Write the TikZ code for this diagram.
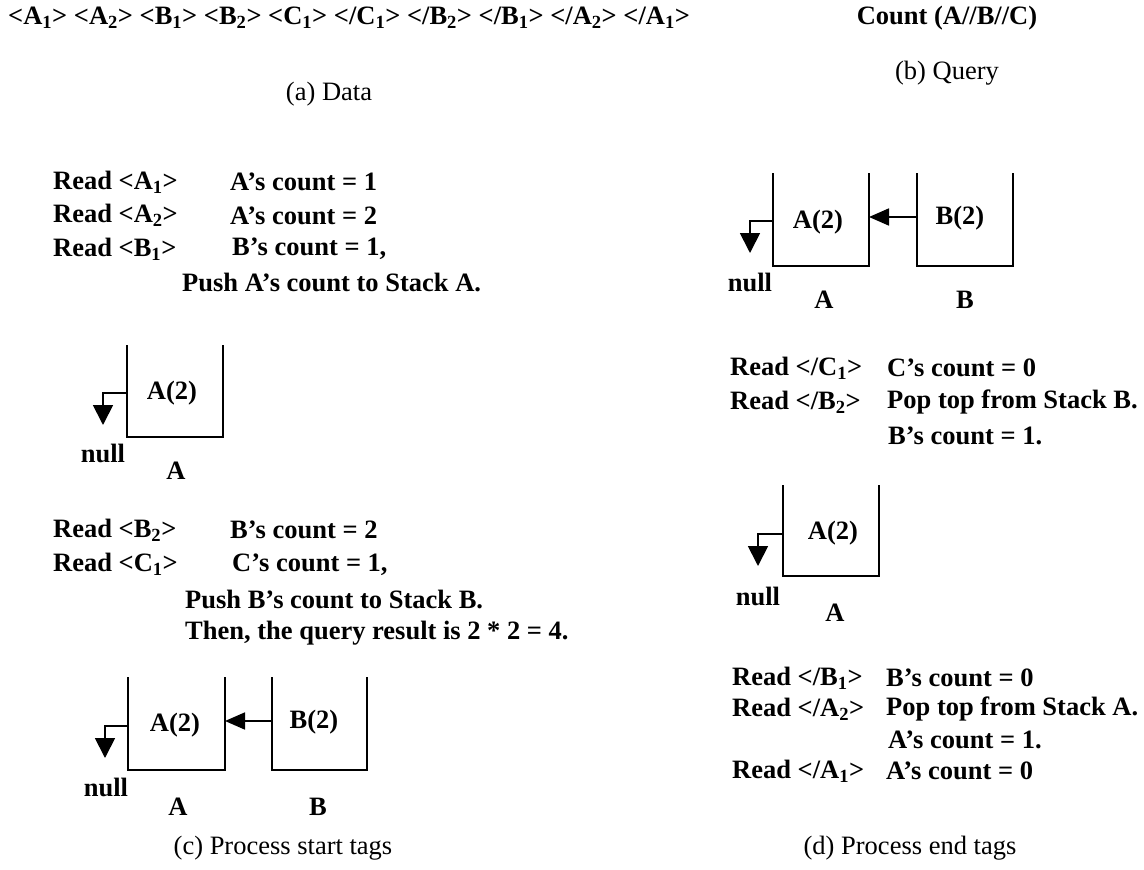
\documentclass[tikz,border=0pt]{standalone}
\usepackage{fontspec}
\setmainfont{Liberation Serif}
\usetikzlibrary{arrows.meta}
% start and end tags with a subscript index
\newcommand{\stag}[2]{<#1\textsubscript{#2}>}
\newcommand{\etag}[2]{</#1\textsubscript{#2}>}
\begin{document}
\begin{tikzpicture}[x=1pt,y=-1pt,
  txt/.style={inner sep=0pt,anchor=west,font=\fontsize{26.5}{30}\selectfont\bfseries},
  ctxt/.style={inner sep=0pt,font=\fontsize{26.5}{30}\selectfont\bfseries},
  captext/.style={inner sep=0pt,font=\fontsize{26.5}{30}\selectfont},
  wall/.style={line width=1.8pt},
  ptr/.style={line width=1.8pt,-{Triangle[length=20pt,width=20pt]}},
  link/.style={line width=1.8pt,-{Triangle[length=20pt,width=17pt]}}]
\fill[white] (0,0) rectangle (1144,870);
\path[use as bounding box] (0,0) rectangle (1144,870);

% (a) data and (b) query
\node[txt] (data) at (8,18) {\stag{A}{1} \stag{A}{2} \stag{B}{1} \stag{B}{2} \stag{C}{1} \etag{C}{1} \etag{B}{2} \etag{B}{1} \etag{A}{2} \etag{A}{1}};
\node[ctxt] (query) at (947,18) {Count (A//B//C)};
\node[captext] (capa) at (329,94) {(a) Data};
\node[captext] (capb) at (947,73) {(b) Query};

% (c) process start tags
\node[txt] (r1) at (53,182) {Read \stag{A}{1}};
\node[txt] (s1) at (230,182) {A’s count = 1};
\node[txt] (r2) at (53,215.5) {Read \stag{A}{2}};
\node[txt] (s2) at (230,215.5) {A’s count = 2};
\node[txt] (r3) at (53,249) {Read \stag{B}{1}};
\node[txt] (s3) at (232,249) {B’s count = 1,};
\node[txt] (s3b) at (182,282.5) {Push A’s count to Stack A.};

\draw[wall] (127,345) -- (127,437) -- (223,437) -- (223,345);
\coordinate (c1w) at (127,393);
\coordinate (c1n) at (103,425);
\draw[ptr] (c1w) -| (c1n);
\node[ctxt] (c1a) at (172,393) {A(2)};
\node[ctxt] (c1null) at (103,453) {null};
\node[ctxt] (c1la) at (176,471) {A};

\node[txt] (r4) at (53,530) {Read \stag{B}{2}};
\node[txt] (s4) at (230,530) {B’s count = 2};
\node[txt] (r5) at (53,564.5) {Read \stag{C}{1}};
\node[txt] (s5) at (232,564.5) {C’s count = 1,};
\node[txt] (s5b) at (185,599) {Push B’s count to Stack B.};
\node[txt] (s5c) at (185,633.5) {Then, the query result is 2 * 2 = 4.};

\draw[wall] (128,677) -- (128,770) -- (225,770) -- (225,677);
\draw[wall] (272,677) -- (272,770) -- (367,770) -- (367,677);
\coordinate (c2aw) at (128,726);
\coordinate (c2ae) at (225,721);
\coordinate (c2bw) at (272,721);
\coordinate (c2n) at (105,758);
\draw[ptr] (c2aw) -| (c2n);
\draw[link] (c2bw) -- (c2ae);
\node[ctxt] (c2a) at (175,725) {A(2)};
\node[ctxt] (c2b) at (314,722) {B(2)};
\node[ctxt] (c2null) at (106,787) {null};
\node[ctxt] (c2la) at (178,807) {A};
\node[ctxt] (c2lb) at (318,807) {B};
\node[captext] (capc) at (283,848) {(c) Process start tags};

% (d) process end tags
\draw[wall] (773,173) -- (773,266) -- (869,266) -- (869,173);
\draw[wall] (917,173) -- (917,266) -- (1013,266) -- (1013,173);
\coordinate (d1aw) at (773,221);
\coordinate (d1ae) at (869,217);
\coordinate (d1bw) at (917,217);
\coordinate (d1n) at (750,253);
\draw[ptr] (d1aw) -| (d1n);
\draw[link] (d1bw) -- (d1ae);
\node[ctxt] (d1a) at (818,222) {A(2)};
\node[ctxt] (d1b) at (960,218) {B(2)};
\node[ctxt] (d1null) at (750,282) {null};
\node[ctxt] (d1la) at (824,300) {A};
\node[ctxt] (d1lb) at (965,300) {B};

\node[txt] (e1) at (730,368) {Read \etag{C}{1}};
\node[txt] (f1) at (887,368) {C’s count = 0};
\node[txt] (e2) at (730,402) {Read \etag{B}{2}};
\node[txt] (f2) at (887,402) {Pop top from Stack B.};
\node[txt] (f2b) at (888,436) {B’s count = 1.};

\draw[wall] (783,485) -- (783,576) -- (879,576) -- (879,485);
\coordinate (d2aw) at (783,534);
\coordinate (d2n) at (758,566);
\draw[ptr] (d2aw) -| (d2n);
\node[ctxt] (d2a) at (833,533) {A(2)};
\node[ctxt] (d2null) at (758,596) {null};
\node[ctxt] (d2la) at (835,613) {A};

\node[txt] (e3) at (732,678) {Read \etag{B}{1}};
\node[txt] (f3) at (886,678) {B’s count = 0};
\node[txt] (e4) at (732,709) {Read \etag{A}{2}};
\node[txt] (f4) at (886,709) {Pop top from Stack A.};
\node[txt] (f4b) at (888,740) {A’s count = 1.};
\node[txt] (e5) at (732,771) {Read \etag{A}{1}};
\node[txt] (f5) at (886,771) {A’s count = 0};
\node[captext] (capd) at (910,848) {(d) Process end tags};
\end{tikzpicture}
\end{document}
